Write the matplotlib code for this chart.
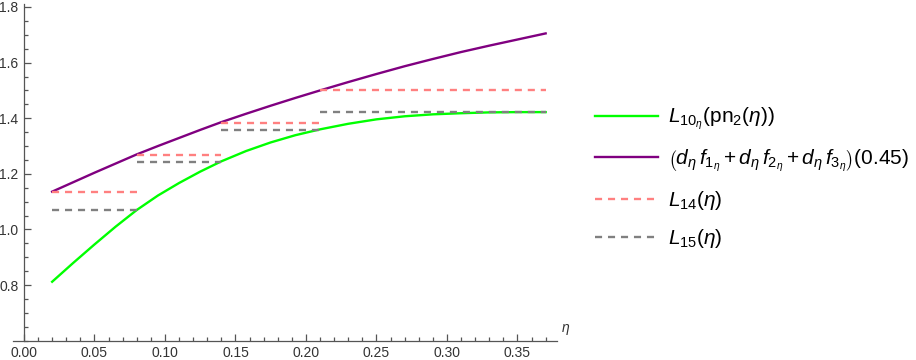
import matplotlib
matplotlib.use('Agg')
import matplotlib.pyplot as plt
from matplotlib.ticker import MultipleLocator, FormatStrFormatter

# curve samples
eta = [0.02, 0.035, 0.05, 0.065, 0.08, 0.095, 0.11, 0.125, 0.14, 0.1575, 0.175,
       0.1925, 0.21, 0.23, 0.25, 0.27, 0.29, 0.31, 0.33, 0.35, 0.37]
purple_vals = [1.136, 1.170, 1.204, 1.237, 1.270, 1.300, 1.329, 1.358, 1.386, 1.416, 1.445,
               1.473, 1.500, 1.530, 1.559, 1.587, 1.613, 1.638, 1.661, 1.683, 1.705]
green_vals = [0.812, 0.880, 0.946, 1.010, 1.070, 1.122, 1.167, 1.208, 1.245, 1.282, 1.313,
              1.339, 1.360, 1.380, 1.396, 1.407, 1.414, 1.418, 1.421, 1.422, 1.422]

# piecewise constant bounds
step_edges = [0.02, 0.08, 0.14, 0.21, 0.37]
L14_vals = [1.136, 1.269, 1.383, 1.501]
L15_vals = [1.071, 1.243, 1.359, 1.422]

labels = [r'$L_{10_\eta}(\mathrm{pn}_2(\eta))$',
          r'$\left(d_\eta\, f_{1_\eta} + d_\eta\, f_{2_\eta} + d_\eta\, f_{3_\eta}\right)(0.45)$',
          r'$L_{14}(\eta)$',
          r'$L_{15}(\eta)$']

plt.rcParams['font.family'] = ['Liberation Sans', 'DejaVu Sans']
plt.rcParams['mathtext.fontset'] = 'custom'
plt.rcParams['mathtext.rm'] = 'Liberation Sans'
plt.rcParams['mathtext.it'] = 'Liberation Sans:italic'
plt.rcParams['mathtext.bf'] = 'Liberation Sans:bold'

axis_col = '#555555'

fig = plt.figure(figsize=(9.16, 3.6), dpi=100)
ax = fig.add_axes([0.0146, 0.0536, 0.5934, 0.9347])

lw = 1.7
h_green, = ax.plot(eta, green_vals, color='#00ff00', lw=lw, label=labels[0])
h_purple, = ax.plot(eta, purple_vals, color='#800080', lw=lw, label=labels[1])

for i in range(len(L14_vals)):
    h14, = ax.plot(step_edges[i:i + 2], [L14_vals[i]] * 2, color='#ff8080', lw=lw,
                   dashes=(3, 2.5), label=labels[2] if i == 0 else None)
for i in range(len(L15_vals)):
    h15, = ax.plot(step_edges[i:i + 2], [L15_vals[i]] * 2, color='#808080', lw=lw,
                   dashes=(3, 2.5), label=labels[3] if i == 0 else None)

ax.set_xlim(-0.0075, 0.378)
ax.set_ylim(0.6, 1.81)

ax.spines['top'].set_visible(False)
ax.spines['right'].set_visible(False)
ax.spines['left'].set_position(('data', 0))
for s in ('left', 'bottom'):
    ax.spines[s].set_color(axis_col)
    ax.spines[s].set_linewidth(0.9)

ax.xaxis.set_minor_locator(MultipleLocator(0.01))
ax.yaxis.set_minor_locator(MultipleLocator(0.05))
ax.xaxis.set_major_formatter(FormatStrFormatter('%.2f'))
ax.yaxis.set_major_formatter(FormatStrFormatter('%.1f'))
ax.set_yticks([0.8, 1.0, 1.2, 1.4, 1.6, 1.8])
ax.set_xticks([0.0, 0.05, 0.10, 0.15, 0.20, 0.25, 0.30, 0.35])

ax.tick_params(which='both', direction='in', color=axis_col, width=0.9,
               labelsize=10, labelcolor='#333333')
ax.tick_params(which='major', length=5, pad=4)
ax.tick_params(which='minor', length=3)

ax.annotate(r'$\eta$', xy=(1.0, 0.0), xycoords='axes fraction',
            xytext=(3, 8), textcoords='offset points', fontsize=10,
            color='#333333', ha='left', va='center')

fig.legend(handles=[h_green, h_purple, h14, h15], labels=labels,
           loc='center left', bbox_to_anchor=(595 / 916, 1 - 178 / 360),
           frameon=False, fontsize=15, handlelength=3.0, handletextpad=0.48,
           labelspacing=0.72, borderpad=0, borderaxespad=0)

fig.savefig('out.png', dpi=100)
